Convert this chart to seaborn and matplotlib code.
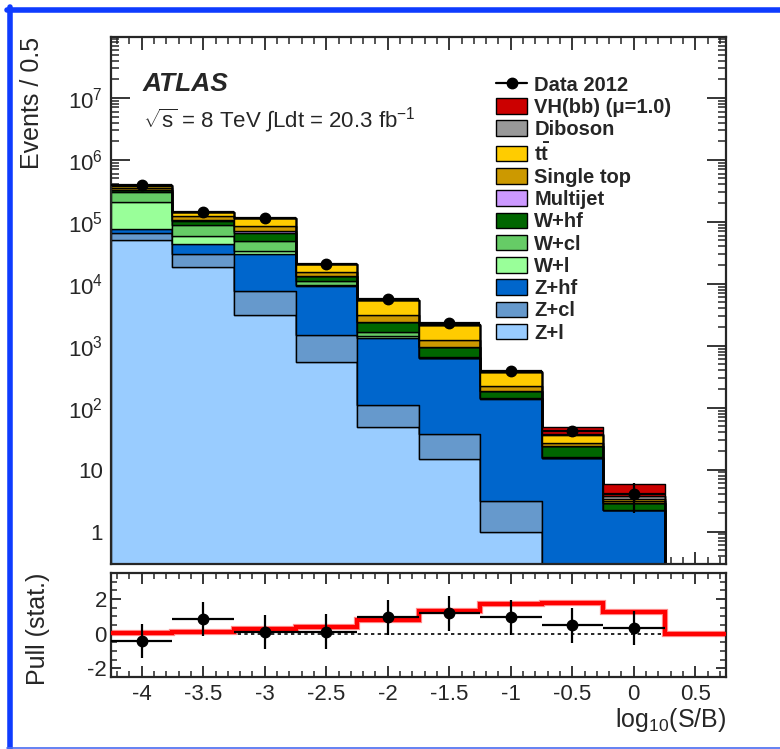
import numpy as np
import pandas as pd
import matplotlib
matplotlib.use("Agg")
import matplotlib.pyplot as plt
from matplotlib.patches import Patch
from matplotlib.lines import Line2D
from matplotlib.ticker import MultipleLocator, LogLocator, FuncFormatter, NullFormatter
import seaborn as sns

# binning in log10(S/B)
bin_edges = [-4.25, -3.75, -3.25, -2.75, -2.25, -1.75, -1.25, -0.75, -0.25, 0.25, 0.75]
bin_centers = [-4.0, -3.5, -3.0, -2.5, -2.0, -1.5, -1.0, -0.5, 0.0, 0.5]

# background / signal yields per bin
vh = [30, 50, 80, 100, 60, 40, 8, 11.4, 2.1, 0]
diboson = [3000, 3000, 2000, 500, 100, 30, 7, 0.9, 0.3, 0]
ttbar = [40000, 20000, 26000, 5300, 2310, 890, 150, 9.7, 0.3, 0]
single_top = [20000, 15000, 15000, 1800, 690, 290, 31, 3.1, 0.2, 0]
multijet = [3000, 3000, 6000, 200, 20, 5, 1, 0.1, 0.0, 0]
w_hf = [18000, 15000, 17000, 2250, 700, 295, 43, 7.8, 0.65, 0]
w_cl = [95000, 29000, 15000, 1350, 270, 15, 3, 0.4, 0.03, 0]
w_l = [133000, 16000, 4000, 460, 90, 15, 2, 0.2, 0.02, 0]
z_hf = [10000, 14000, 22400, 7625, 1208, 592, 137, 15.4, 2.2, 0]
z_cl = [15000, 11400, 4520, 969, 63, 22.8, 2.1, 0, 0, 0]
z_l = [51000, 18600, 3080, 546, 49, 14.8, 1.0, 0, 0, 0]

data_x = [-4.0, -3.5, -3.0, -2.5, -2.0, -1.5, -1.0, -0.5, 0.0]
data_y = [390000, 145000, 115000, 21000, 5700, 2330, 395, 42, 4]
data_err = [624, 381, 339, 145, 75, 48, 20, 6.5, 2.0]

pull_data = [-0.43, 0.84, 0.10, 0.12, 0.94, 1.18, 0.94, 0.49, 0.33]
pull_signal = [0.05, 0.12, 0.27, 0.41, 0.80, 1.31, 1.70, 1.76, 1.24, 0.0]

sample_names = ["VH(bb) (\u03bc=1.0)", "Diboson", r"t$\mathbf{\bar{t}}$", "Single top",
                "Multijet", "W+hf", "W+cl", "W+l", "Z+hf", "Z+cl", "Z+l"]
sample_values = [vh, diboson, ttbar, single_top, multijet, w_hf, w_cl, w_l, z_hf, z_cl, z_l]
sample_colors = ["#cc0000", "#999999", "#ffcc00", "#cc9900", "#cc99ff", "#006600",
                 "#66cc66", "#99ff99", "#0066cc", "#6699cc", "#99ccff"]

sns.set_style("ticks")
plt.rcParams["font.family"] = ["Liberation Sans", "DejaVu Sans"]
plt.rcParams["mathtext.fontset"] = "custom"
plt.rcParams["mathtext.rm"] = "Liberation Sans"
plt.rcParams["mathtext.it"] = "Liberation Sans:italic"
plt.rcParams["mathtext.bf"] = "Liberation Sans:bold"
plt.rcParams["axes.unicode_minus"] = False

rows = []
for name, vals in zip(sample_names, sample_values):
    for c, v in zip(bin_centers, vals):
        rows.append({"x": c, "w": v, "sample": name})
df = pd.DataFrame(rows)
palette = dict(zip(sample_names, sample_colors))

fig = plt.figure(figsize=(7.8, 7.49), dpi=100)
ax = fig.add_axes([0.1423, 0.247, 0.7885, 0.7036])
axp = fig.add_axes([0.1423, 0.0961, 0.7885, 0.1389])

# stacked histogram (first hue level ends up on top of the stack)
sns.histplot(data=df, x="x", weights="w", hue="sample", hue_order=sample_names,
             palette=palette, bins=bin_edges, multiple="stack", element="step",
             edgecolor="black", linewidth=1.0, alpha=1, legend=False, ax=ax)
ax.set_yscale("log")
ax.errorbar(data_x, data_y, xerr=0.25, yerr=data_err, fmt="o", color="black",
            ms=7.5, lw=1.6, capsize=0, zorder=10)

ax.set_xlim(-4.25, 0.75)
ax.set_ylim(0.3, 9.6e7)
ax.set_xlabel("")
ax.set_ylabel("Events / 0.5", fontsize=18, loc="top", labelpad=17)


def log_fmt(v, pos):
    e = int(round(np.log10(v)))
    if e == 0:
        return "1"
    if e == 1:
        return "10"
    return r"$10^{%d}$" % e


ax.yaxis.set_major_locator(LogLocator(base=10, numticks=20))
ax.yaxis.set_minor_locator(LogLocator(base=10, subs=np.arange(2, 10), numticks=20))
ax.yaxis.set_major_formatter(FuncFormatter(log_fmt))
ax.yaxis.set_minor_formatter(NullFormatter())
ax.xaxis.set_major_locator(MultipleLocator(0.5))
ax.xaxis.set_minor_locator(MultipleLocator(0.1))
ax.tick_params(axis="x", which="both", direction="in", top=True, bottom=True, labelbottom=False)
ax.tick_params(axis="x", which="major", length=9, width=1.3)
ax.tick_params(axis="x", which="minor", length=5, width=1.1)
ax.tick_params(axis="y", which="both", direction="in", left=True, right=True, labelsize=16, pad=6)
ax.tick_params(axis="y", which="major", length=14, width=1.3)
ax.tick_params(axis="y", which="minor", length=6, width=1.1)
for s in ax.spines.values():
    s.set_linewidth(1.6)

ax.text(0.052, 0.91, "ATLAS", transform=ax.transAxes, fontsize=19, fontweight="bold",
        fontstyle="italic", va="center", ha="left")
ax.text(0.052, 0.842, r"$\sqrt{\mathrm{s}}$ = 8 TeV $\int$Ldt = 20.3 fb$^{\mathrm{-1}}$",
        transform=ax.transAxes, fontsize=16, va="center", ha="left")

handles = [Line2D([0], [0], color="black", marker="o", ms=7.5, lw=1.6)]
labels = ["Data 2012"]
for name, col in zip(sample_names, sample_colors):
    handles.append(Patch(facecolor=col, edgecolor="black", linewidth=1.0))
    labels.append(name)
leg = fig.legend(handles, labels, loc="upper left", bbox_to_anchor=(0.636, 0.899),
                 frameon=False, borderpad=0, borderaxespad=0, handlelength=1.55,
                 handleheight=0.8, handletextpad=0.35, labelspacing=0.16,
                 prop={"size": 14.5, "weight": "bold"})

# pull panel
axp.stairs(pull_signal, bin_edges, color="#ff9090", lw=4.5, baseline=None, zorder=2)
axp.stairs(pull_signal, bin_edges, color="#ff0000", lw=3.0, baseline=None, zorder=3)
axp.axhline(0, color="black", lw=1.2, ls=(0, (2, 2)), zorder=1)
axp.errorbar(data_x, pull_data, xerr=0.25, yerr=1.0, fmt="o", color="black",
             ms=7.5, lw=1.6, capsize=0, zorder=5)
axp.set_xlim(-4.25, 0.75)
axp.set_ylim(-2.5, 3.5)
axp.set_ylabel("Pull (stat.)", fontsize=18, loc="top", labelpad=27)
axp.xaxis.set_major_locator(MultipleLocator(0.5))
axp.xaxis.set_minor_locator(MultipleLocator(0.1))
axp.xaxis.set_major_formatter(FuncFormatter(lambda v, p: "%g" % v))
axp.yaxis.set_major_locator(MultipleLocator(2))
axp.yaxis.set_minor_locator(MultipleLocator(0.5))
axp.tick_params(axis="both", which="both", direction="in", top=True, bottom=True,
                left=True, right=True, labelsize=16)
axp.tick_params(axis="x", which="major", length=8, width=1.3, pad=5)
axp.tick_params(axis="x", which="minor", length=4, width=1.1)
axp.tick_params(axis="y", which="major", length=7, width=1.3, pad=3)
axp.tick_params(axis="y", which="minor", length=4, width=1.1)
for s in axp.spines.values():
    s.set_linewidth(1.6)
fig.text(726 / 780, 1 - 720 / 749, r"log$_{10}$(S/B)", fontsize=18, ha="right", va="center")

# blue slide frame
fig.add_artist(Line2D([9.5 / 780, 9.5 / 780], [0, 1 - 7 / 749], transform=fig.transFigure,
                      color="#0f3cff", lw=4))
fig.add_artist(Line2D([7 / 780, 1], [1 - 9.5 / 749, 1 - 9.5 / 749], transform=fig.transFigure,
                      color="#0f3cff", lw=4))
fig.add_artist(Line2D([7 / 780, 1], [1.2 / 749, 1.2 / 749], transform=fig.transFigure,
                      color="#4a6cf0", lw=1.2))

fig.savefig("out.png", dpi=100)
